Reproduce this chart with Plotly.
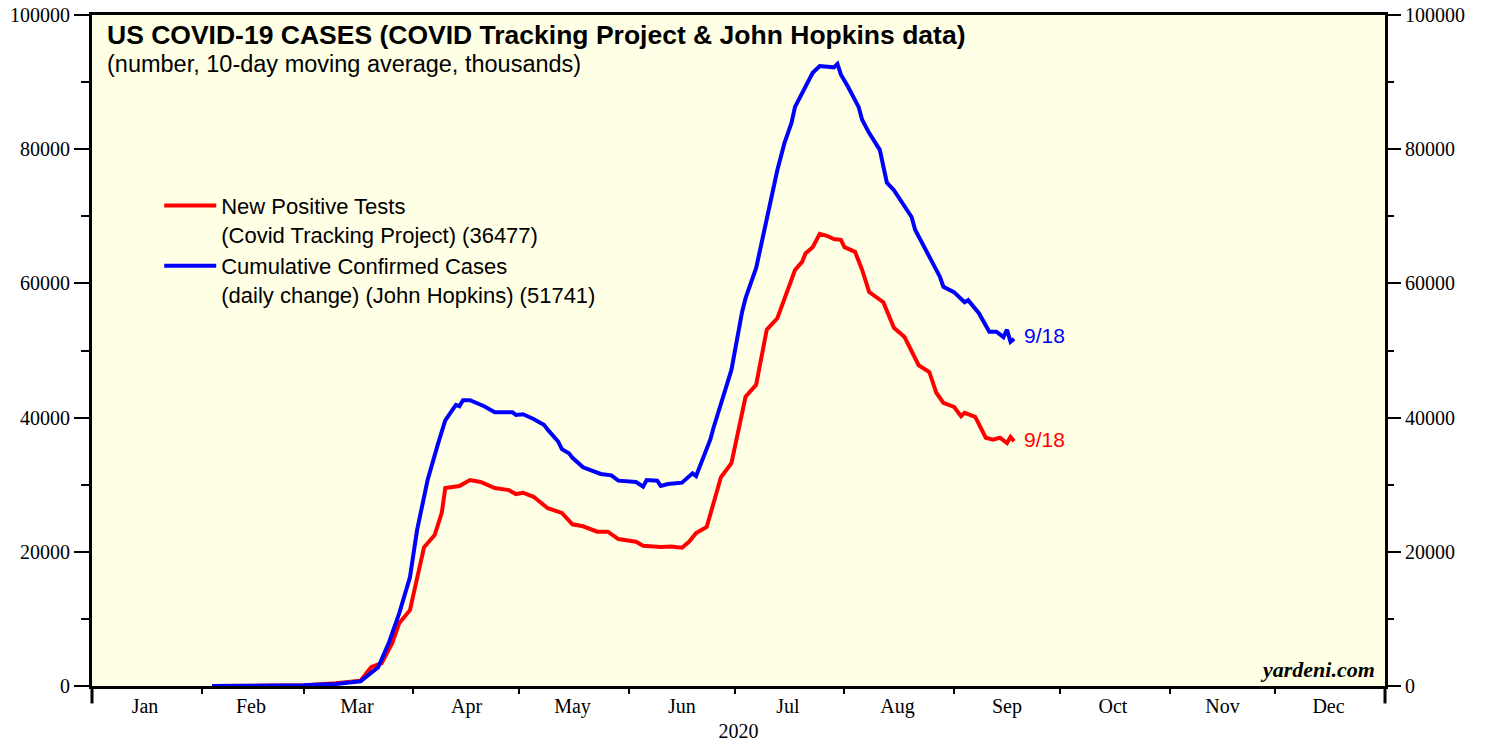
import plotly.graph_objects as go

# ---------------- data ----------------
blue_dates = ["2020-02-04","2020-02-15","2020-03-01","2020-03-10","2020-03-17","2020-03-22","2020-03-25",
              "2020-03-28","2020-03-31","2020-04-02","2020-04-05","2020-04-08","2020-04-10","2020-04-13",
              "2020-04-14","2020-04-15","2020-04-17","2020-04-21","2020-04-24","2020-04-29","2020-04-30",
              "2020-05-02","2020-05-05","2020-05-08","2020-05-09","2020-05-12","2020-05-13","2020-05-15",
              "2020-05-16","2020-05-19","2020-05-21","2020-05-24","2020-05-27","2020-05-29","2020-06-03",
              "2020-06-05","2020-06-06","2020-06-09","2020-06-10","2020-06-12","2020-06-16","2020-06-19",
              "2020-06-20","2020-06-22","2020-06-24","2020-06-25","2020-06-27","2020-06-30","2020-07-03",
              "2020-07-04","2020-07-07","2020-07-10","2020-07-13","2020-07-15","2020-07-17","2020-07-18",
              "2020-07-21","2020-07-23","2020-07-25","2020-07-29","2020-07-30","2020-07-31","2020-08-02",
              "2020-08-05","2020-08-06","2020-08-08","2020-08-11","2020-08-13","2020-08-15","2020-08-18",
              "2020-08-20","2020-08-21","2020-08-25","2020-08-28","2020-08-29","2020-09-01","2020-09-04",
              "2020-09-05","2020-09-08","2020-09-11","2020-09-13","2020-09-15","2020-09-16","2020-09-17",
              "2020-09-18"]
blue_values = [0,0,100,300,700,2800,6400,
               10900,16200,23200,30700,36200,39600,41900,
               41700,42600,42600,41700,40800,40800,40400,
               40500,39800,38900,38200,36400,35300,34700,
               34000,32600,32200,31600,31400,30600,30400,
               29700,30700,30600,29800,30100,30300,31700,
               31300,34100,36700,38600,41900,47100,55700,
               57800,62300,69900,76900,80900,83900,86300,
               89300,91400,92400,92200,92700,91100,89300,
               86300,84400,82400,79900,75000,73900,71400,
               69900,68000,63900,61000,59500,58700,57200,
               57500,55600,52800,52800,52000,53100,51300,
               51741]

red_dates = ["2020-02-04","2020-02-15","2020-03-01","2020-03-10","2020-03-17","2020-03-20","2020-03-23",
             "2020-03-26","2020-03-28","2020-03-31","2020-04-02","2020-04-04","2020-04-07","2020-04-09",
             "2020-04-10","2020-04-14","2020-04-17","2020-04-20","2020-04-24","2020-04-28","2020-04-30",
             "2020-05-02","2020-05-05","2020-05-09","2020-05-13","2020-05-16","2020-05-19","2020-05-23",
             "2020-05-26","2020-05-29","2020-06-03","2020-06-05","2020-06-10","2020-06-13","2020-06-16",
             "2020-06-18","2020-06-20","2020-06-23","2020-06-26","2020-06-27","2020-06-30","2020-07-04",
             "2020-07-07","2020-07-10","2020-07-13","2020-07-16","2020-07-18","2020-07-20","2020-07-21",
             "2020-07-23","2020-07-25","2020-07-27","2020-07-29","2020-07-31","2020-08-01","2020-08-04",
             "2020-08-06","2020-08-08","2020-08-12","2020-08-15","2020-08-18","2020-08-22","2020-08-25",
             "2020-08-27","2020-08-29","2020-09-01","2020-09-03","2020-09-04","2020-09-07","2020-09-10",
             "2020-09-12","2020-09-14","2020-09-16","2020-09-17","2020-09-18"]
red_values = [0,0,100,400,800,2800,3400,
              6400,9400,11300,15800,20700,22500,25800,
              29500,29800,30700,30400,29500,29200,28600,
              28800,28200,26500,25800,24100,23800,23000,
              23000,21900,21500,20900,20700,20800,20600,
              21500,22800,23700,29200,31100,33200,43100,
              44900,53100,54800,59000,62000,63200,64500,
              65400,67400,67100,66600,66500,65400,64700,
              62000,58700,57200,53400,52000,47800,46800,
              43700,42200,41600,40200,40700,40100,37000,
              36700,37000,36200,37100,36477]

red_name = "New Positive Tests<br>(Covid Tracking Project) (36477)"
blue_name = "Cumulative Confirmed Cases<br>(daily change) (John Hopkins) (51741)"
end_label = "9/18"

month_starts = ["2020-02-01","2020-03-01","2020-04-01","2020-05-01","2020-06-01","2020-07-01",
                "2020-08-01","2020-09-01","2020-10-01","2020-11-01","2020-12-01"]
month_mids = ["2020-01-16","2020-02-15","2020-03-16","2020-04-16","2020-05-16","2020-06-16",
              "2020-07-16","2020-08-16","2020-09-16","2020-10-16","2020-11-16","2020-12-16"]
month_names = ["Jan","Feb","Mar","Apr","May","Jun","Jul","Aug","Sep","Oct","Nov","Dec"]
y_ticks = [0, 20000, 40000, 60000, 80000, 100000]
y_labels = [str(v) for v in y_ticks]

title = "US COVID-19 CASES (COVID Tracking Project & John Hopkins data)"
subtitle = "(number, 10-day moving average, thousands)"

# ---------------- figure ----------------
SERIF = "Liberation Serif, Times New Roman, serif"
SANS = "Liberation Sans, Arial, sans-serif"

fig = go.Figure()
fig.add_trace(go.Scatter(x=red_dates, y=red_values, mode="lines", name=red_name,
                         line=dict(color="#ff0000", width=4)))
fig.add_trace(go.Scatter(x=blue_dates, y=blue_values, mode="lines", name=blue_name,
                         line=dict(color="#0000ff", width=4)))
# invisible trace for right axis
fig.add_trace(go.Scatter(x=["2020-01-01"], y=[0], yaxis="y2", mode="markers",
                         marker=dict(opacity=0), showlegend=False, hoverinfo="skip"))

tick_font = dict(family=SERIF, size=20, color="black")

fig.update_layout(
    width=1490, height=742,
    margin=dict(l=92, r=105, t=15, b=56, autoexpand=False),
    paper_bgcolor="white",
    plot_bgcolor="#ffffe5",
    showlegend=True,
    legend=dict(x=0.052, y=0.747, xanchor="left", yanchor="top",
                bgcolor="rgba(0,0,0,0)", font=dict(family=SANS, size=22, color="black"),
                valign="top", tracegroupgap=0, itemwidth=52),
    xaxis=dict(type="date", range=["2020-01-01", "2021-01-01"], automargin=False,
               showgrid=False, zeroline=False,
               showline=True, linecolor="black", linewidth=3, mirror=True,
               tickvals=month_mids, ticktext=month_names, ticks="",
               tickfont=tick_font,
               minor=dict(tickvals=month_starts, ticks="outside", ticklen=5,
                          tickwidth=2, tickcolor="black"),
               title=dict(text="2020", font=tick_font, standoff=10)),
    yaxis=dict(range=[0, 100000], showgrid=False, zeroline=False, automargin=False,
               showline=True, linecolor="black", linewidth=3, mirror=True,
               tickvals=y_ticks, ticktext=y_labels, ticks="outside", ticklen=15,
               tickwidth=1.5, tickcolor="black",
               tickfont=tick_font,
               minor=dict(dtick=10000, ticks="outside", ticklen=8, tickwidth=1.5,
                          tickcolor="black", showgrid=False)),
    yaxis2=dict(range=[0, 100000], overlaying="y", side="right", automargin=False,
                showgrid=False, zeroline=False, showline=False,
                tickvals=y_ticks, ticktext=y_labels, ticks="outside", ticklen=15,
                tickwidth=1.5, tickcolor="black",
                tickfont=tick_font,
                minor=dict(dtick=10000, ticks="outside", ticklen=8, tickwidth=1.5,
                           tickcolor="black", showgrid=False)),
)

# axis line extensions below the frame
for xp in (0, 1):
    fig.add_shape(type="line", xref="paper", yref="paper", x0=xp, x1=xp, y0=0, y1=-0.026,
                  line=dict(color="black", width=3))

fig.add_annotation(xref="paper", yref="paper", x=0.01, y=1, xanchor="left", yanchor="top",
                   yshift=-3, text="<b>" + title + "</b>", showarrow=False,
                   font=dict(family=SANS, size=26.5, color="black"))
fig.add_annotation(xref="paper", yref="paper", x=0.01, y=1, xanchor="left", yanchor="top",
                   yshift=-34, text=subtitle, showarrow=False,
                   font=dict(family=SANS, size=23.5, color="black"))
fig.add_annotation(xref="paper", yref="paper", x=1, y=0, xanchor="right", yanchor="bottom",
                   xshift=-8, yshift=2, text="<b><i>yardeni.com</i></b>", showarrow=False,
                   font=dict(family=SERIF, size=22, color="black"))

fig.add_annotation(x=blue_dates[-1], y=blue_values[-1], xanchor="left", yanchor="middle",
                   xshift=8, yshift=3, text=end_label, showarrow=False,
                   font=dict(family=SANS, size=21, color="#0000ff"))
fig.add_annotation(x=red_dates[-1], y=red_values[-1], xanchor="left", yanchor="middle",
                   xshift=8, yshift=2, text=end_label, showarrow=False,
                   font=dict(family=SANS, size=21, color="#ff0000"))

fig.write_html("out.html", config={"displayModeBar": False},
               post_script="document.body.style.margin='0';document.body.style.overflow='hidden';")
